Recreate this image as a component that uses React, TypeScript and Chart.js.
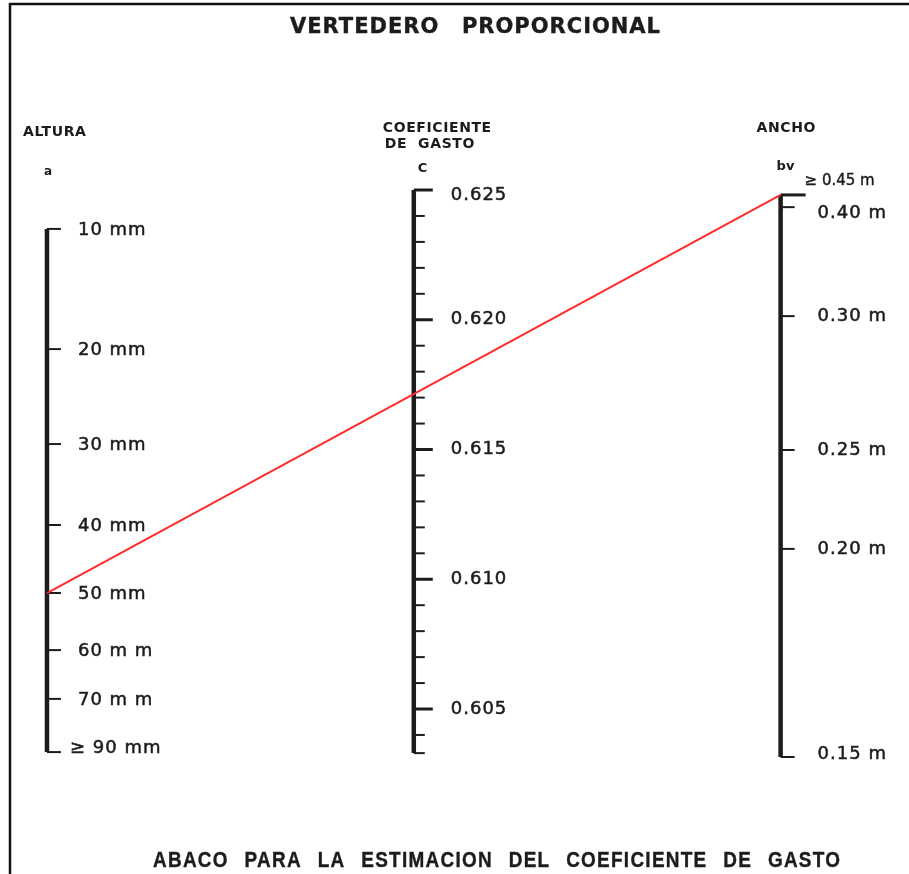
import { useEffect, useRef } from 'react';
import { Chart, registerables } from 'chart.js';

Chart.register(...registerables);

// ---------- DATA ----------
// Three parallel scales of the nomogram, in order along the x axis:
// 0 = Altura a, 1 = Coeficiente de gasto C, 2 = Ancho bv
const scaleIndex = [0, 1, 2];
const scaleHeaders = [['ALTURA'], ['COEFICIENTE', 'DE  GASTO'], ['ANCHO']];
const scaleSymbols = ['a', 'C', 'bv'];

// The shared vertical scale is the (linear) coefficient C.
// Altura graduations (mm) and the level (in C units) at which each sits.
const alturaValues = [10, 20, 30, 40, 50, 60, 70, 90];
const alturaLabels = ['10 mm', '20 mm', '30 mm', '40 mm', '50 mm', '60 m m', '70 m m', '≥ 90 mm'];
const alturaLevels = [0.6235, 0.61887, 0.61521, 0.61209, 0.60947, 0.60727, 0.60539, 0.60334];

// Coeficiente de gasto C graduations
const cMajorValues = [0.625, 0.62, 0.615, 0.61, 0.605];
const cMajorLabels = ['0.625', '0.620', '0.615', '0.610', '0.605'];
const cMinorValues = [
  0.624, 0.623, 0.622, 0.621, 0.619, 0.618, 0.617, 0.616, 0.614, 0.613, 0.612, 0.611,
  0.609, 0.608, 0.607, 0.606, 0.604,
];
const cRange = [0.6033, 0.625];

// Ancho bv graduations (m) and their level (in C units)
const anchoValues = [0.45, 0.4, 0.3, 0.25, 0.2, 0.15];
const anchoLabels = ['≥ 0.45 m', '0.40 m', '0.30 m', '0.25 m', '0.20 m', '0.15 m'];
const anchoLevels = [0.62481, 0.62434, 0.62014, 0.61498, 0.61117, 0.60315];

// Worked example drawn in red: a = 50 mm, bv ≥ 0.45 m
const exampleAltura = 50;
const exampleAncho = 0.45;

const titleText = 'VERTEDERO  PROPORCIONAL';
const captionText = 'ABACO  PARA  LA ESTIMACION  DEL  COEFICIENTE  DE  GASTO';

// ---------- STYLE ----------
const INK = '#1c1c1c';
const RED = '#ff2a2a';
const W = 909;
const H = 874;

function inkText(ctx: CanvasRenderingContext2D, s: string, x: number, y: number, stroke = 0.5) {
  ctx.fillText(s, x, y);
  if (stroke > 0) {
    ctx.lineWidth = stroke;
    ctx.strokeStyle = INK;
    ctx.strokeText(s, x, y);
  }
}

function spreadText(
  ctx: CanvasRenderingContext2D,
  text: string,
  x0: number,
  x1: number,
  y: number,
  font: string,
  spacing: number,
  sx: number
) {
  const words = text.split(/\s+/);
  ctx.save();
  ctx.font = font;
  (ctx as any).letterSpacing = spacing + 'px';
  ctx.textBaseline = 'middle';
  ctx.textAlign = 'left';
  const widths = words.map((w) => (ctx.measureText(w).width - spacing) * sx);
  const total = widths.reduce((a, b) => a + b, 0);
  const gap = words.length > 1 ? (x1 - x0 - total) / (words.length - 1) : 0;
  let x = x0;
  words.forEach((w, i) => {
    ctx.save();
    ctx.translate(x, y);
    ctx.scale(sx, 1);
    inkText(ctx, w, 0, 0, 0.4);
    ctx.restore();
    x += widths[i] + gap;
  });
  ctx.restore();
}

const nomogramPlugin = {
  id: 'nomogram',
  beforeDatasetsDraw(chart: any) {
    const ctx: CanvasRenderingContext2D = chart.ctx;
    const xs = chart.scales.x;
    const ys = chart.scales.y;
    ctx.save();
    ctx.strokeStyle = INK;
    const tick = (xv: number, yv: number, len: number, w: number) => {
      const px = xs.getPixelForValue(xv);
      const py = ys.getPixelForValue(yv);
      ctx.lineWidth = w;
      ctx.beginPath();
      ctx.moveTo(px, py);
      ctx.lineTo(px + len, py);
      ctx.stroke();
    };
    alturaLevels.forEach((lv) => tick(scaleIndex[0], lv, 14, 2));
    cMajorValues.forEach((v) => tick(scaleIndex[1], v, 19, 3));
    cMinorValues.forEach((v) => tick(scaleIndex[1], v, 11, 2));
    tick(scaleIndex[1], cRange[0], 11, 2);
    anchoLevels.forEach((lv, i) => tick(scaleIndex[2], lv, i === 0 ? 25 : 14, i === 0 ? 3 : 2));
    ctx.restore();
  },
  afterDatasetsDraw(chart: any) {
    const ctx: CanvasRenderingContext2D = chart.ctx;
    const xs = chart.scales.x;
    const ys = chart.scales.y;
    const ax = scaleIndex.map((i) => xs.getPixelForValue(i));
    ctx.save();
    ctx.fillStyle = INK;
    ctx.textBaseline = 'middle';
    ctx.textAlign = 'left';

    // tick labels
    ctx.font = '18px "DejaVu Sans"';
    (ctx as any).letterSpacing = '1px';
    alturaLabels.forEach((lab, i) => {
      const y = ys.getPixelForValue(alturaLevels[i]);
      const last = i === alturaLabels.length - 1;
      inkText(ctx, lab, ax[0] + (last ? 23 : 31), y + (last ? -4 : 1));
    });
    cMajorLabels.forEach((lab, i) => {
      const y = ys.getPixelForValue(cMajorValues[i]);
      inkText(ctx, lab, ax[1] + 37, y + (i === 0 ? 5 : 0));
    });
    anchoLabels.forEach((lab, i) => {
      const y = ys.getPixelForValue(anchoLevels[i]);
      if (i === 0) {
        ctx.save();
        ctx.font = '15px "DejaVu Sans"';
        (ctx as any).letterSpacing = '0px';
        inkText(ctx, lab, ax[2] + 24, y - 14, 0.4);
        ctx.restore();
      } else {
        inkText(ctx, lab, ax[2] + 37, y + (i === 1 ? 6 : i === anchoLabels.length - 1 ? -3 : 0));
      }
    });

    // headers
    ctx.font = 'bold 14px "DejaVu Sans"';
    (ctx as any).letterSpacing = '0.6px';
    const hdrX = [ax[0] - 24, ax[1] - 31, ax[2] - 24];
    scaleHeaders.forEach((lines, i) => {
      lines.forEach((line, j) => {
        ctx.fillText(line, hdrX[i] + j * 2, (i === 0 ? 132 : 128) + j * 16);
      });
    });
    (ctx as any).letterSpacing = '0px';
    const symX = [ax[0] - 3, ax[1] + 4, ax[2] - 4];
    const symY = [172, 169, 167];
    const symFont = ['bold 12px "DejaVu Sans"', 'bold 13px "DejaVu Sans"', 'bold 13px "DejaVu Sans"'];
    scaleSymbols.forEach((s, i) => {
      ctx.font = symFont[i];
      ctx.fillText(s, symX[i], symY[i]);
    });
    ctx.restore();

    // title & caption
    ctx.save();
    ctx.fillStyle = INK;
    spreadText(ctx, titleText, 290, 660, 28, 'bold 21px "DejaVu Sans"', 1, 1);
    spreadText(ctx, captionText, 153, 840, 861, 'bold 22px "Liberation Sans"', 1.5, 0.86);
    ctx.restore();

    // frame
    ctx.save();
    ctx.strokeStyle = '#111';
    ctx.lineWidth = 2.5;
    ctx.beginPath();
    ctx.moveTo(10, H);
    ctx.lineTo(10, 4);
    ctx.lineTo(W, 4);
    ctx.stroke();
    ctx.restore();
  },
};

export default function App() {
  const ref = useRef<HTMLCanvasElement | null>(null);
  useEffect(() => {
    if (!ref.current) return;
    const aIdx = alturaValues.indexOf(exampleAltura);
    const bIdx = anchoValues.indexOf(exampleAncho);
    const axisStyle = {
      borderColor: INK,
      borderWidth: 4.5,
      pointRadius: 0,
      showLine: true,
      order: 2,
    };
    const chart = new Chart(ref.current, {
      type: 'scatter',
      data: {
        datasets: [
          {
            label: 'Altura a',
            data: [
              { x: scaleIndex[0], y: alturaLevels[0] },
              { x: scaleIndex[0], y: alturaLevels[alturaLevels.length - 1] },
            ],
            ...axisStyle,
          },
          {
            label: 'Coeficiente C',
            data: [
              { x: scaleIndex[1], y: cRange[1] },
              { x: scaleIndex[1], y: cRange[0] },
            ],
            ...axisStyle,
          },
          {
            label: 'Ancho bv',
            data: [
              { x: scaleIndex[2], y: anchoLevels[0] },
              { x: scaleIndex[2], y: anchoLevels[anchoLevels.length - 1] },
            ],
            ...axisStyle,
          },
          {
            label: 'Ejemplo',
            data: [
              { x: scaleIndex[0], y: alturaLevels[aIdx] },
              { x: scaleIndex[2], y: anchoLevels[bIdx] },
            ],
            borderColor: RED,
            borderWidth: 2,
            pointRadius: 0,
            showLine: true,
            order: 0,
          },
        ],
      },
      options: {
        responsive: false,
        animation: false,
        events: [],
        layout: { padding: 0 },
        plugins: { legend: { display: false }, tooltip: { enabled: false }, title: { display: false } },
        scales: {
          x: { type: 'linear', display: false, min: -0.128, max: 2.35 },
          y: { type: 'linear', display: false, min: 0.598642, max: 0.632322 },
        },
      },
      plugins: [nomogramPlugin],
    });
    return () => chart.destroy();
  }, []);
  return (
    <div style={{ position: 'fixed', left: 0, top: 0, width: W, height: H, background: '#fff' }}>
      <canvas ref={ref} width={W} height={H} style={{ display: 'block' }} />
    </div>
  );
}
